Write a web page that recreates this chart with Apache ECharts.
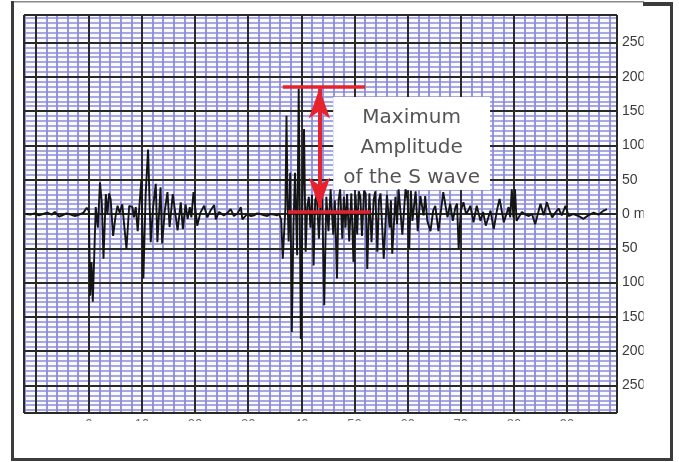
<!DOCTYPE html>
<html>
<head>
<meta charset="utf-8">
<script src="https://cdn.jsdelivr.net/npm/echarts/dist/echarts.min.js"></script>
<style>
  html, body { margin: 0; padding: 0; background: #fff; }
  #myChart { width: 679px; height: 462px; }
</style>
</head>
<body>
<div id="myChart"></div>
<script>
// seismogram trace (seconds, mm)
var seisTime = [
  -11.8, -11.0, -10.2, -9.4, -8.6, -7.8, -7.0, -6.4, -5.6, -5.0, -4.2, -3.4, -2.6, -1.8, -1.0, -0.4,
  0.0, 0.25, 0.5, 0.75, 1.3, 1.7, 2.1, 2.45, 2.76, 3.2, 3.5, 3.82, 4.1, 4.57, 5.0, 5.4, 5.8, 6.3, 6.7,
  7.08, 7.6, 8.2, 8.5, 8.83, 9.2, 9.5, 9.9, 10.27, 10.7, 11.15, 11.65, 12.1, 12.6,
  12.9, 13.5, 13.8, 14.3, 14.8, 15.2, 15.8, 16.7, 17.3, 17.7, 18.2, 18.6, 19.0, 19.3, 19.7, 20.4,
  21.0, 21.7, 22.3, 22.9, 23.6, 23.9, 24.5, 25.4, 26.0, 26.7, 27.3, 28.0, 28.6, 28.9, 29.8, 30.5,
  31.1, 31.7, 32.3, 33.0, 33.6, 34.2, 34.8, 35.4, 35.8, 36.2,
  36.5, 37.0, 37.2, 37.4, 37.6, 37.9, 38.2, 38.5, 38.8, 39.2, 39.5, 39.9, 40.2, 40.5, 40.8, 41.1,
  41.4, 41.7, 42.0, 42.3, 42.6, 42.9, 43.3, 43.6, 43.9, 44.3, 44.7, 45.1, 45.5, 46.0, 46.3, 46.7,
  47.0, 47.3, 47.7, 48.0, 48.3, 48.6, 49.0, 49.4, 49.8, 50.2, 50.5, 50.8, 51.1, 51.4, 51.8, 52.1,
  52.4, 52.8, 53.2, 53.6, 53.9, 54.3, 54.6, 54.9, 55.5, 56.1, 56.6, 56.85, 57.1, 57.7, 58.0, 58.3,
  59.0, 59.6, 60.0, 60.3, 60.6, 60.9, 61.5, 61.9, 62.4, 63.0, 63.3, 63.7, 64.3, 64.8, 65.2, 65.8,
  66.7, 67.5, 68.0, 68.5, 69.0, 69.3, 69.6, 70.0, 70.5, 71.0, 71.4, 71.8, 72.4, 73.0, 73.7, 74.2,
  74.7, 75.6, 76.2, 76.8, 77.3, 78.1, 79.0, 79.3, 79.6, 79.9, 80.2, 80.5, 80.8, 81.5, 82.2, 82.8,
  83.4, 84.0, 84.5, 85.0, 85.6, 86.2, 86.7, 87.2, 87.8, 88.4, 89.0, 89.7, 90.3, 91.2, 92.2, 93.1,
  94.0, 95.0, 95.9, 96.9, 97.5
];
var seisAmp = [
  0, -1, 1, -2, 0, 2, -1, 3, -4, -2, 1, -1, -3, -1, 2, 9,
  5, -119, -70, -128, 10, -20, 46, 15, -65, 29, 0, 30, 22, -32, -5, 12, 2, 14, -20,
  -51, 12, 10, -5, 10, -25, 10, 51, -94, 30, 94, -41, 10, 44,
  -41, 39, -43, 5, 32, -19, 29, -24, 17, -22, 14, -7, 10, -5, 32, -17,
  2, 12, -5, 5, 13, -8, 3, -2, 1, 7, -3, 1, 10, -8, 0, -3,
  -2, 1, 0, -2, -3, 0, -1, -2, 0, -8,
  -65, 10, 143, 20, -40, 60, -172, -20, 60, -60, 183, -182, 20, 124, -55, 10,
  25, -20, 28, -75, 20, 28, -36, 15, 30, -133, 25, -25, 36, -30, 20, -94,
  20, 36, -36, 25, -20, 29, -40, 30, -70, 28, -30, 33, 25, -32, 34, 30,
  -80, 30, -41, 20, 33, -55, 20, 30, -65, 28, -20, 20, -58, 25, -15, 36,
  -30, 36, 20, -51, 34, -10, 33, -25, 26, -2, 26, -10, -25, 5, 12, -25,
  32, -5, 15, -10, 10, 15, -51, 5, 17, 0, 5, 12, -12, 12, -10, 3,
  -17, 5, -22, 5, 22, -12, 10, -5, 36, -5, 36, -10, -9, 3, -1, -3,
  0, -15, 0, 15, -2, 17, 5, -5, 2, 8, -2, 12, -3, 0, -3, -7,
  -2, 2, -1, 5, 7
];

// axis ranges and tick steps
var timeRange = [-12.2, 99.4];
var ampRange = [-290, 290];
var timeStep = 10;
var ampStep = 50;

// annotation: maximum amplitude of the S wave
var peakTop = 185;
var peakBase = 3;
var arrowTime = 43.4;
var noteBoxTime = [46.0, 75.5];
var noteBoxAmp = [35, 170.6];
var noteText = "Maximum\nAmplitude\nof the S wave";

var red = "#e6232d";
var myChart = echarts.init(document.getElementById("myChart"));

var trace = seisTime.map(function (t, i) { return [t, seisAmp[i]]; });

function baseAxis(min, max, step) {
  return {
    type: "value",
    min: min,
    max: max,
    minInterval: step,
    maxInterval: step,
    axisLine: { show: false },
    axisTick: { show: false },
    axisPointer: { show: false }
  };
}

var xMinor = Object.assign(baseAxis(timeRange[0], timeRange[1], timeStep), {
  z: 0,
  axisLabel: { show: false },
  splitLine: { show: false },
  minorTick: { show: false, splitNumber: 5 },
  minorSplitLine: { show: true, lineStyle: { color: "#8c8cd8", width: 1.8 } }
});
var xMajor = Object.assign(baseAxis(timeRange[0], timeRange[1], timeStep), {
  z: 1,
  position: "bottom",
  axisLabel: {
    show: true,
    margin: 5,
    fontSize: 13,
    fontFamily: "Liberation Sans",
    color: "#666",
    showMinLabel: false,
    showMaxLabel: false,
    formatter: function (v) { return v >= 0 && v <= 90 ? String(v) : ""; }
  },
  splitLine: { show: true, lineStyle: { color: "#2a2a2a", width: 2 } }
});
var yMinor = Object.assign(baseAxis(ampRange[0], ampRange[1], ampStep), {
  z: 0,
  axisLabel: { show: false },
  splitLine: { show: false },
  minorTick: { show: false, splitNumber: 7 },
  minorSplitLine: { show: true, lineStyle: { color: "#8c8cd8", width: 1.5 } }
});
var yMajor = Object.assign(baseAxis(ampRange[0], ampRange[1], ampStep), {
  z: 1,
  position: "right",
  axisLabel: {
    show: true,
    margin: 5,
    fontSize: 14,
    fontFamily: "Liberation Sans",
    color: "#3a3a3a",
    showMinLabel: false,
    showMaxLabel: false,
    formatter: function (v) { return v === 0 ? "0 mm" : String(Math.abs(v)); }
  },
  splitLine: { show: true, lineStyle: { color: "#2a2a2a", width: 2 } }
});

var option = {
  backgroundColor: "#fff",
  animation: false,
  grid: {
    left: 24,
    right: 62,
    top: 15,
    bottom: 49,
    show: true,
    backgroundColor: "#fafaff",
    borderColor: "#666",
    borderWidth: 1
  },
  xAxis: [xMinor, xMajor],
  yAxis: [yMinor, yMajor],
  series: [
    {
      type: "line",
      xAxisIndex: 1,
      yAxisIndex: 1,
      data: trace,
      showSymbol: false,
      symbol: "none",
      silent: true,
      lineStyle: { color: "#141414", width: 1.9 },
      markArea: {
        silent: true,
        itemStyle: { color: "#fff", opacity: 1 },
        label: {
          show: true,
          position: "insideTop",
          distance: 6,
          formatter: noteText,
          fontFamily: "DejaVu Sans",
          fontSize: 20,
          lineHeight: 30,
          color: "#555"
        },
        data: [[
          { coord: [noteBoxTime[0], noteBoxAmp[1]] },
          { coord: [noteBoxTime[1], noteBoxAmp[0]] }
        ]]
      },
      markLine: {
        silent: true,
        symbol: "none",
        label: { show: false },
        lineStyle: { color: red, width: 3.5, type: "solid", opacity: 1 },
        data: [
          [
            { coord: [36.5, peakTop], lineStyle: { color: red, width: 3.5 } },
            { coord: [52.0, peakTop] }
          ],
          [
            { coord: [37.5, peakBase], lineStyle: { color: red, width: 3.5 } },
            { coord: [53.0, peakBase] }
          ],
          [
            { coord: [arrowTime, peakTop - 2], symbol: "arrow", symbolSize: [16, 30], lineStyle: { color: red, width: 4 } },
            { coord: [arrowTime, peakBase + 6], symbol: "arrow", symbolSize: [16, 30] }
          ]
        ]
      }
    }
  ],
  graphic: {
    elements: [
      // crop of the picture on the right and below the plot
      { type: "rect", z: 100, shape: { x: 643.5, y: 6, width: 27, height: 452 }, style: { fill: "#fff" } },
      { type: "rect", z: 100, shape: { x: 14, y: 421, width: 657, height: 37 }, style: { fill: "#fff" } },
      // frame
      { type: "rect", z: 101, shape: { x: 11, y: 1, width: 633, height: 1.5 }, style: { fill: "#8a8a8a" } },
      { type: "rect", z: 101, shape: { x: 643, y: 2, width: 30, height: 4 }, style: { fill: "#3c3c3c" } },
      { type: "rect", z: 101, shape: { x: 11, y: 1, width: 3, height: 460 }, style: { fill: "#3c3c3c" } },
      { type: "rect", z: 101, shape: { x: 670, y: 2, width: 3, height: 459 }, style: { fill: "#3c3c3c" } },
      { type: "rect", z: 101, shape: { x: 11, y: 458, width: 662, height: 3 }, style: { fill: "#3c3c3c" } }
    ]
  }
};

myChart.setOption(option);
</script>
</body>
</html>
